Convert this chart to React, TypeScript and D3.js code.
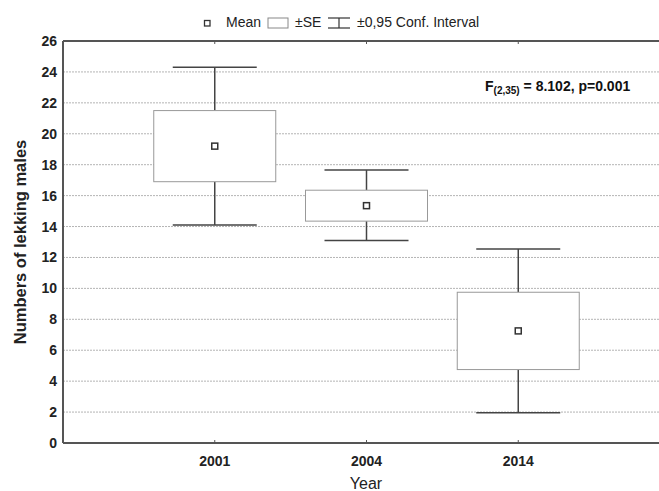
import React from "react";
import * as d3 from "d3";

const years = ["2001", "2004", "2014"];
const means = [19.2, 15.35, 7.25];
const seLow = [16.9, 14.35, 4.75];
const seHigh = [21.5, 16.35, 9.75];
const ciLow = [14.1, 13.1, 1.95];
const ciHigh = [24.3, 17.65, 12.55];
const yTicks = [0, 2, 4, 6, 8, 10, 12, 14, 16, 18, 20, 22, 24, 26];

const W = 659;
const H = 491;
const left = 63;
const right = 670; // plot frame runs past the picture edge
const top = 41;
const bottom = 443;
const font = "Liberation Sans, Arial, sans-serif";
const axisColor = "#555";

export default function App() {
  const x = d3.scalePoint<string>().domain(years).range([left, right]).padding(1);
  const y = d3.scaleLinear().domain([0, 26]).range([bottom, top]);

  const boxHalf = 61;
  const capHalf = 42;

  return (
    <svg
      width={W}
      height={H}
      style={{ position: "absolute", left: 0, top: 0, background: "#fff" }}
      fontFamily={font}
    >
      {/* grid */}
      {yTicks
        .filter((t) => t > 0 && t < 26)
        .map((t) => (
          <line
            key={"g" + t}
            x1={left}
            x2={right}
            y1={y(t)}
            y2={y(t)}
            stroke="#b4b4b4"
            strokeWidth={1}
            strokeDasharray="2,1"
          />
        ))}

      {/* boxes and whiskers */}
      {years.map((yr, i) => {
        const cx = x(yr)!;
        return (
          <g key={yr}>
            <line x1={cx} x2={cx} y1={y(ciHigh[i])} y2={y(seHigh[i])} stroke="#444" strokeWidth={1.5} />
            <line x1={cx} x2={cx} y1={y(seLow[i])} y2={y(ciLow[i])} stroke="#444" strokeWidth={1.5} />
            <line x1={cx - capHalf} x2={cx + capHalf} y1={y(ciHigh[i])} y2={y(ciHigh[i])} stroke="#444" strokeWidth={1.5} />
            <line x1={cx - capHalf} x2={cx + capHalf} y1={y(ciLow[i])} y2={y(ciLow[i])} stroke="#444" strokeWidth={1.5} />
            <rect
              x={cx - boxHalf}
              y={y(seHigh[i])}
              width={boxHalf * 2}
              height={y(seLow[i]) - y(seHigh[i])}
              fill="#fff"
              stroke="#999"
              strokeWidth={1}
            />
            <rect x={cx - 3} y={y(means[i]) - 3} width={6} height={6} fill="#fff" stroke="#333" strokeWidth={1.5} />
          </g>
        );
      })}

      {/* frame */}
      <line x1={left} x2={right} y1={top} y2={top} stroke={axisColor} strokeWidth={2} />
      <line x1={left} x2={right} y1={bottom} y2={bottom} stroke={axisColor} strokeWidth={2} />
      <line x1={left} x2={left} y1={top} y2={bottom} stroke={axisColor} strokeWidth={2} />

      {/* x ticks */}
      {years.map((yr) => (
        <g key={"xt" + yr}>
          <line x1={x(yr)} x2={x(yr)} y1={bottom} y2={bottom - 3} stroke={axisColor} />
          <line x1={x(yr)} x2={x(yr)} y1={top} y2={top + 3} stroke={axisColor} />
          <text x={x(yr)} y={466} fontSize={14} fontWeight="bold" textAnchor="middle" fill="#222">
            {yr}
          </text>
        </g>
      ))}

      {/* y ticks */}
      {yTicks.map((t) => (
        <text key={"yt" + t} x={57} y={y(t) + 5} fontSize={14} fontWeight="bold" textAnchor="end" fill="#222">
          {t}
        </text>
      ))}

      <text
        transform={`translate(26, ${(top + bottom) / 2}) rotate(-90)`}
        fontSize={16.5}
        fontWeight="bold"
        textAnchor="middle"
        fill="#222"
      >
        Numbers of lekking males
      </text>
      <text x={366} y={489} fontSize={16} textAnchor="middle" fill="#222">
        Year
      </text>

      {/* annotation */}
      <text x={485} y={91} fontSize={14} fontWeight="bold" fill="#111">
        F
        <tspan fontSize={10} dy={3}>(2,35)</tspan>
        <tspan dy={-3}> = 8.102, p=0.001</tspan>
      </text>

      {/* legend */}
      <g fill="#222" fontSize={14}>
        <rect x={204.5} y={20.5} width={5.5} height={5.5} fill="#fff" stroke="#333" strokeWidth={1.3} />
        <text x={226} y={27}>Mean</text>
        <rect x={268} y={18} width={20} height={10} fill="#fff" stroke="#888" strokeWidth={1} />
        <text x={295} y={27}>±SE</text>
        <line x1={328} x2={350} y1={18} y2={18} stroke="#333" strokeWidth={1.2} />
        <line x1={328} x2={350} y1={28} y2={28} stroke="#333" strokeWidth={1.2} />
        <line x1={339} x2={339} y1={18} y2={28} stroke="#333" strokeWidth={1.2} />
        <text x={357} y={27}>±0,95 Conf. Interval</text>
      </g>
    </svg>
  );
}
